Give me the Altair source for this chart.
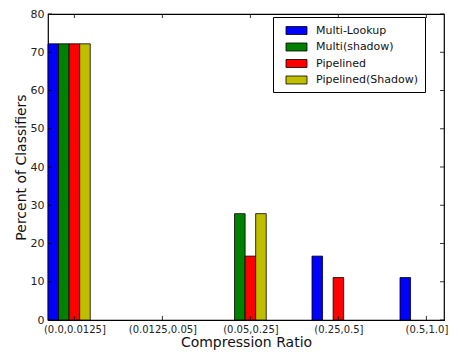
import json
import altair as alt
import pandas as pd

categories = ["(0.0,0.0125]", "(0.0125,0.05]", "(0.05,0.25]", "(0.25,0.5]", "(0.5,1.0]"]
series = ["Multi-Lookup", "Multi(shadow)", "Pipelined", "Pipelined(Shadow)"]
colors = ["#0000ff", "#008000", "#ff0000", "#bfbf00"]
values = {
    "Multi-Lookup":      [72.2, 0.0, 0.0, 16.7, 11.1],
    "Multi(shadow)":     [72.2, 0.0, 27.8, 0.0, 0.0],
    "Pipelined":         [72.2, 0.0, 16.7, 11.1, 0.0],
    "Pipelined(Shadow)": [72.2, 0.0, 27.8, 0.0, 0.0],
}
y_ticks = [0, 10, 20, 30, 40, 50, 60, 70, 80]

BAR_W = 0.12
rows = []
for si, s in enumerate(series):
    for ci, c in enumerate(categories):
        x0 = ci + si * BAR_W
        rows.append({"series": s, "cat": c, "x0": x0, "x1": x0 + BAR_W, "value": values[s][ci]})
df = pd.DataFrame(rows)
df = df[df["value"] > 0]

xtick_vals = [i + 2.5 * BAR_W for i in range(len(categories))]
label_expr = json.dumps(categories) + "[round(datum.value - %s)]" % (2.5 * BAR_W)

W, H = 396, 306
FONT = "DejaVu Sans"

xscale = alt.Scale(domain=[0, 4.5], nice=False, zero=False, padding=0)
yscale = alt.Scale(domain=[0, 80], nice=False, padding=0)

x_axis = alt.Axis(values=xtick_vals, labelExpr=label_expr, ticks=False, domain=False,
                  grid=False, labelFontSize=10, labelPadding=4, labelColor="#222",
                  title="Compression Ratio", titleFontSize=14, titleFontWeight="normal",
                  titleX=W / 2, titleY=22, titleBaseline="middle", titleColor="#111",
                  labelFont=FONT, titleFont=FONT)
y_axis = alt.Axis(values=y_ticks, ticks=False, domain=False, grid=False,
                  labelFontSize=11, labelPadding=4, labelColor="#222",
                  title="Percent of Classifiers", titleFontSize=14, titleFontWeight="normal",
                  titleX=-27, titleY=H / 2, titleBaseline="middle", titleColor="#111",
                  labelFont=FONT, titleFont=FONT)

bars = alt.Chart(df).mark_bar(stroke="black", strokeWidth=0.8).encode(
    x=alt.X("x0:Q", scale=xscale, axis=x_axis, title="Compression Ratio"),
    x2="x1:Q",
    y=alt.Y("value:Q", scale=yscale, axis=y_axis, title="Percent of Classifiers"),
    y2=alt.datum(0),
    color=alt.Color("series:N", scale=alt.Scale(domain=series, range=colors),
                    legend=alt.Legend(title=None, orient="none", legendX=225, legendY=3,
                                      strokeColor="black", fillColor="white", padding=6,
                                      labelFont=FONT, labelFontSize=11, labelColor="#111",
                                      symbolType="M-1.5,-0.57H1.5V0.57H-1.5Z", symbolSize=196,
                                      symbolStrokeColor="black", symbolStrokeWidth=0.8,
                                      symbolOpacity=1, symbolOffset=10,
                                      labelOffset=12, rowPadding=2.5, cornerRadius=0)),
)

ytick_df = pd.DataFrame({"v": y_ticks})
xtick_df = pd.DataFrame({"v": xtick_vals})

ytl = alt.Chart(ytick_df).mark_rule(color="black", strokeWidth=0.8).encode(
    y=alt.Y("v:Q", scale=yscale, axis=y_axis, title="Percent of Classifiers"),
    x=alt.value(0), x2=alt.value(4))
ytr = alt.Chart(ytick_df).mark_rule(color="black", strokeWidth=0.8).encode(
    y=alt.Y("v:Q", scale=yscale, axis=y_axis, title="Percent of Classifiers"),
    x=alt.value(W - 4), x2=alt.value(W))
xtb = alt.Chart(xtick_df).mark_rule(color="black", strokeWidth=0.8).encode(
    x=alt.X("v:Q", scale=xscale, axis=x_axis, title="Compression Ratio"),
    y=alt.value(H - 4), y2=alt.value(H))
xtt = alt.Chart(xtick_df).mark_rule(color="black", strokeWidth=0.8).encode(
    x=alt.X("v:Q", scale=xscale, axis=x_axis, title="Compression Ratio"),
    y=alt.value(0), y2=alt.value(4))

chart = alt.layer(bars, ytl, ytr, xtb, xtt).properties(
    width=W, height=H,
    autosize=alt.AutoSizeParams(type="none"),
    padding={"left": 40, "top": 6, "right": 6, "bottom": 32},
    background="white",
).configure_view(stroke="black", strokeWidth=1.2)

chart.save("out.html", embed_options={"renderer": "svg", "actions": False})
